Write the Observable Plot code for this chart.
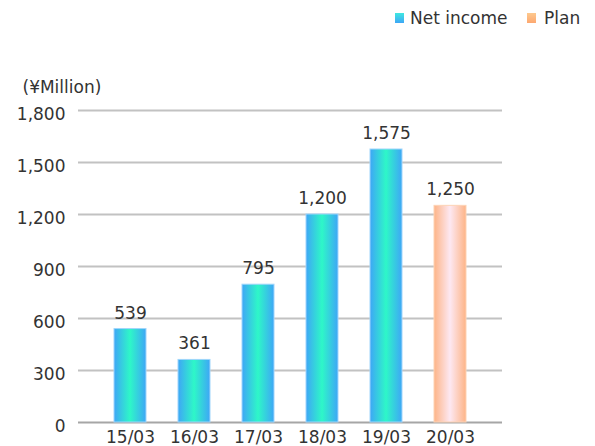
<!DOCTYPE html>
<html>
<head>
<meta charset="utf-8">
<script src="https://cdn.jsdelivr.net/npm/d3@7"></script>
<script src="https://cdn.jsdelivr.net/npm/@observablehq/plot@0.6"></script>
<style>
  html, body { margin: 0; padding: 0; background: #fff; }
  body { width: 595px; height: 446px; overflow: hidden; font-family: "DejaVu Sans", sans-serif; color: #333; }
  #legend { position: relative; height: 40px; font-size: 17px; }
  #legend .sw { position: absolute; width: 9px; height: 10px; top: 13px; }
  #legend .lb { position: absolute; top: 7px; line-height: 22px; white-space: nowrap; }
</style>
</head>
<body>
<div id="legend"></div>
<div id="chart"></div>
<script>
const periods = ["15/03", "16/03", "17/03", "18/03", "19/03", "20/03"];
const values = [539, 361, 795, 1200, 1575, 1250];
const types = ["Net income", "Net income", "Net income", "Net income", "Net income", "Plan"];
const yTicks = [0, 300, 600, 900, 1200, 1500, 1800];
const unitLabel = "(¥Million)";
const seriesNames = ["Net income", "Plan"];

const data = periods.map((p, i) => ({period: p, value: values[i], type: types[i]}));

// Legend (HTML, above the SVG)
const legend = document.getElementById("legend");
const legendSpec = [
  {name: seriesNames[0], sw: 395, lb: 410, grad: "linear-gradient(#3ee8e0, #3ea6f6)"},
  {name: seriesNames[1], sw: 527, lb: 544, grad: "linear-gradient(#fdc98f, #fda870)"}
];
legendSpec.forEach(s => {
  const sw = document.createElement("div");
  sw.className = "sw"; sw.style.left = s.sw + "px"; sw.style.background = s.grad;
  const lb = document.createElement("div");
  lb.className = "lb"; lb.style.left = s.lb + "px"; lb.textContent = s.name;
  legend.appendChild(sw); legend.appendChild(lb);
});

const fmt = d3.format(",");

const plot = Plot.plot({
  width: 595,
  height: 406,
  marginLeft: 78,
  marginRight: 93,
  marginTop: 70,
  marginBottom: 24,
  style: {fontFamily: "DejaVu Sans, sans-serif", fontSize: "17px", color: "#333", background: "#fff"},
  x: {domain: periods, paddingInner: 0.5, paddingOuter: 0.52, label: null},
  y: {domain: [0, 1800], label: null},
  marks: [
    Plot.ruleY(yTicks.filter(d => d > 0), {stroke: "#c2c2c2", strokeWidth: 2}),
    Plot.ruleY([0], {stroke: "#a6a6a6", strokeWidth: 2}),
    Plot.barY(data.filter(d => d.type === seriesNames[0]), {x: "period", y: "value", fill: "url(#gNet)", stroke: "#9fd6fb", strokeWidth: 1}),
    Plot.barY(data.filter(d => d.type === seriesNames[1]), {x: "period", y: "value", fill: "url(#gPlan)", stroke: "#fdd3b5", strokeWidth: 1}),
    Plot.text(data, {x: "period", y: "value", text: d => fmt(d.value), dy: -16, fill: "#333", fontSize: 17}),
    Plot.axisY({ticks: yTicks, tickSize: 0, tickPadding: 13, tickFormat: fmt, dy: 4, fill: "#333"}),
    Plot.axisX({tickSize: 0, tickPadding: 8, fill: "#333"}),
    Plot.text([unitLabel], {frameAnchor: "top-left", dx: -56, dy: -30, textAnchor: "start", fill: "#333", fontSize: 17})
  ]
});

const defs = d3.select(plot).insert("defs", ":first-child");
const gNet = defs.append("linearGradient").attr("id", "gNet").attr("x1", 0).attr("x2", 1).attr("y1", 0).attr("y2", 0);
gNet.append("stop").attr("offset", "0%").attr("stop-color", "#3ea6f6");
gNet.append("stop").attr("offset", "50%").attr("stop-color", "#2ef7c8");
gNet.append("stop").attr("offset", "100%").attr("stop-color", "#3ea6f6");
const gPlan = defs.append("linearGradient").attr("id", "gPlan").attr("x1", 0).attr("x2", 1).attr("y1", 0).attr("y2", 0);
gPlan.append("stop").attr("offset", "0%").attr("stop-color", "#fdb487");
gPlan.append("stop").attr("offset", "50%").attr("stop-color", "#fde8f2");
gPlan.append("stop").attr("offset", "100%").attr("stop-color", "#fdb487");

document.getElementById("chart").appendChild(plot);
</script>
</body>
</html>
